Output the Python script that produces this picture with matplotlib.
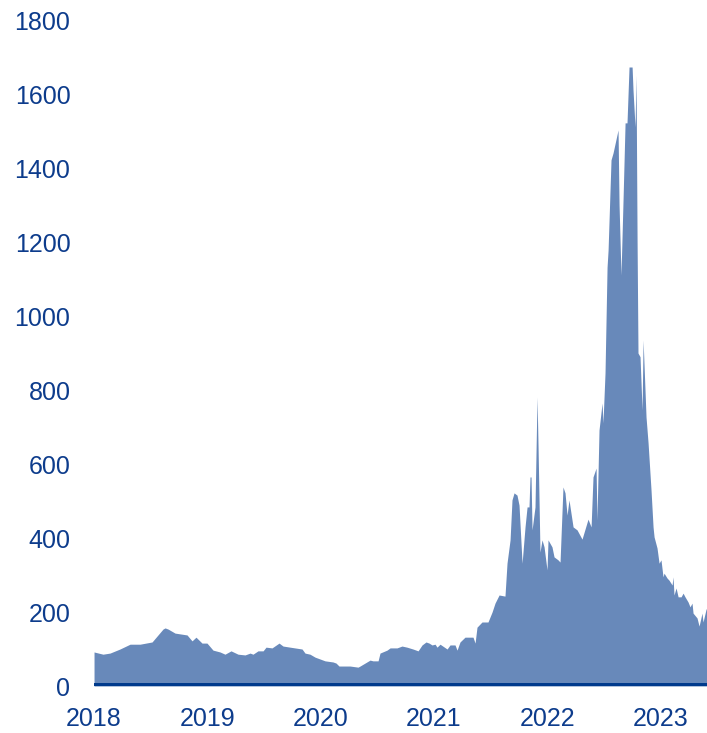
import numpy as np
import matplotlib.pyplot as plt

# time as decimal years
years = [2018.000, 2018.079, 2018.141, 2018.229, 2018.318, 2018.406, 2018.512, 2018.609,
         2018.627, 2018.653, 2018.715, 2018.821, 2018.865, 2018.900, 2018.953, 2018.997,
         2019.050, 2019.112, 2019.156, 2019.209, 2019.271, 2019.333, 2019.377, 2019.403,
         2019.447, 2019.492, 2019.518, 2019.571, 2019.633, 2019.668, 2019.730, 2019.836,
         2019.862, 2019.906, 2019.951, 2019.995, 2020.039, 2020.109, 2020.136, 2020.162,
         2020.259, 2020.330, 2020.348, 2020.392, 2020.436, 2020.462, 2020.507, 2020.524,
         2020.586, 2020.613, 2020.674, 2020.718, 2020.762, 2020.815, 2020.860, 2020.895,
         2020.930, 2020.957, 2020.983, 2021.010, 2021.027, 2021.054, 2021.116, 2021.142,
         2021.186, 2021.204, 2021.230, 2021.274, 2021.345, 2021.363, 2021.380, 2021.424,
         2021.477, 2021.513, 2021.539, 2021.575, 2021.627, 2021.645, 2021.672, 2021.689,
         2021.707, 2021.733, 2021.751, 2021.778, 2021.804, 2021.822, 2021.839, 2021.848,
         2021.857, 2021.866, 2021.892, 2021.910, 2021.919, 2021.936, 2021.954, 2021.972,
         2021.998, 2022.007, 2022.042, 2022.060, 2022.095, 2022.113, 2022.139, 2022.157,
         2022.175, 2022.192, 2022.228, 2022.263, 2022.307, 2022.360, 2022.387, 2022.404,
         2022.431, 2022.439, 2022.457, 2022.484, 2022.492, 2022.510, 2022.528, 2022.537,
         2022.563, 2022.581, 2022.625, 2022.634, 2022.651, 2022.669, 2022.687, 2022.704,
         2022.722, 2022.749, 2022.757, 2022.775, 2022.784, 2022.793, 2022.801, 2022.819,
         2022.837, 2022.846, 2022.872, 2022.890, 2022.916, 2022.934, 2022.943, 2022.969,
         2022.987, 2023.004, 2023.022, 2023.031, 2023.057, 2023.075, 2023.102, 2023.110,
         2023.119, 2023.137, 2023.155, 2023.181, 2023.199, 2023.216, 2023.243, 2023.260,
         2023.278, 2023.287, 2023.322, 2023.340, 2023.366, 2023.375, 2023.402, 2023.410]
values = [92, 86, 89, 100, 113, 113, 119, 154,
          157, 154, 143, 138, 122, 132, 116, 116,
          97, 92, 86, 95, 86, 84, 89, 86,
          95, 95, 105, 103, 116, 108, 105, 100,
          89, 86, 78, 73, 68, 65, 62, 54,
          54, 51, 54, 62, 70, 68, 68, 89,
          97, 103, 103, 108, 105, 100, 95, 111,
          119, 116, 111, 113, 105, 113, 100, 111,
          111, 97, 119, 132, 132, 116, 159, 173,
          173, 200, 224, 246, 243, 332, 395, 503,
          522, 516, 489, 332, 430, 484, 484, 565,
          565, 422, 484, 781, 646, 362, 395, 376,
          314, 395, 376, 349, 341, 335, 538, 522,
          462, 503, 430, 422, 397, 451, 430, 565,
          589, 449, 692, 765, 711, 846, 1132, 1178,
          1422, 1441, 1503, 1300, 1111, 1313, 1522, 1522,
          1673, 1673, 1611, 1511, 1651, 1200, 900, 890,
          746, 935, 727, 657, 530, 430, 403, 373,
          332, 341, 295, 305, 292, 286, 273, 295,
          246, 265, 241, 241, 251, 241, 227, 214,
          224, 197, 184, 162, 197, 173, 208, 210]

year_ticks = [2018, 2019, 2020, 2021, 2022, 2023]
y_ticks = [0, 200, 400, 600, 800, 1000, 1200, 1400, 1600, 1800]

text_col = '#0D3C8C'
fill_col = '#6889BA'
base_col = '#003A8C'

plt.rcParams['font.family'] = ['Liberation Sans', 'DejaVu Sans']

fig = plt.figure(figsize=(7.07, 7.33), dpi=100)
ax = fig.add_axes([0.133, 0.0641, 0.867, 0.9086])

ax.fill_between(years, 0, values, color=fill_col, linewidth=0)
ax.axhline(0, color=base_col, linewidth=4.3, solid_capstyle='butt')

ax.set_xlim(2018, 2023.41)
ax.set_ylim(0, 1800)
ax.set_xticks(year_ticks)
ax.set_yticks(y_ticks)
ax.tick_params(axis='both', length=0, labelsize=18, labelcolor=text_col)
ax.tick_params(axis='y', pad=17)
ax.tick_params(axis='x', pad=15)
for s in ax.spines.values():
    s.set_visible(False)

fig.savefig('out.png', dpi=100)
